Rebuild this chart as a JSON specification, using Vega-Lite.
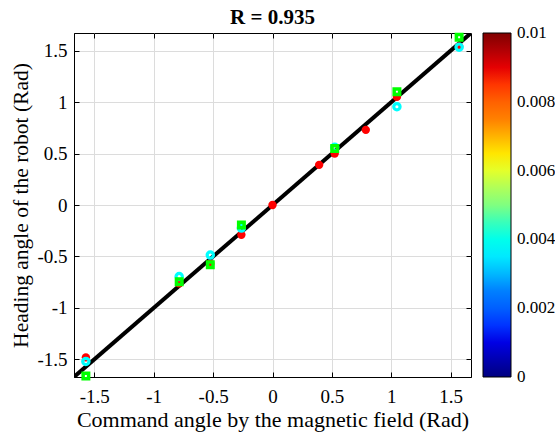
{
  "$schema": "https://vega.github.io/schema/vega-lite/v6.json",
  "width": 397,
  "height": 344,
  "autosize": {"type": "none"},
  "padding": {"left": 74, "top": 33, "right": 84, "bottom": 59},
  "background": "white",
  "title": {"text": "R = 0.935", "font": "Liberation Serif", "fontSize": 21, "fontWeight": "bold", "color": "black", "anchor": "middle", "offset": -1},
  "config": {
    "view": {"stroke": "black", "strokeWidth": 1},
    "axis": {
      "labelFont": "Liberation Serif", "labelFontSize": 19, "labelColor": "black",
      "titleFont": "Liberation Serif", "titleFontSize": 21.5, "titleFontWeight": "normal", "titleColor": "black",
      "domainColor": "black", "tickColor": "black", "tickSize": -5, "labelPadding": 12,
      "gridColor": "#dcdcdc", "gridWidth": 1
    },
    "legend": {
      "labelFont": "Liberation Serif", "labelFontSize": 17, "labelColor": "black"
    }
  },
  "datasets": {
    "pts": [
      {"series": "red", "x": 0, "y": 0},
      {"series": "red", "x": 0.3927, "y": 0.39},
      {"series": "red", "x": 0.5236, "y": 0.5},
      {"series": "red", "x": 0.7854, "y": 0.73},
      {"series": "red", "x": 1.0472, "y": 1.05},
      {"series": "red", "x": 1.5708, "y": 1.54},
      {"series": "red", "x": -0.2618, "y": -0.29},
      {"series": "red", "x": -0.5236, "y": -0.57},
      {"series": "red", "x": -0.7854, "y": -0.76},
      {"series": "red", "x": -1.5708, "y": -1.48},
      {"series": "cyan", "x": 1.5708, "y": 1.533},
      {"series": "cyan", "x": 1.0472, "y": 0.955},
      {"series": "cyan", "x": 0.5236, "y": 0.56},
      {"series": "cyan", "x": -0.2618, "y": -0.224},
      {"series": "cyan", "x": -0.5236, "y": -0.486},
      {"series": "cyan", "x": -0.7854, "y": -0.695},
      {"series": "cyan", "x": -1.5708, "y": -1.52},
      {"series": "green", "x": 1.5708, "y": 1.63},
      {"series": "green", "x": 1.0472, "y": 1.1},
      {"series": "green", "x": 0.5236, "y": 0.548},
      {"series": "green", "x": -0.2618, "y": -0.195},
      {"series": "green", "x": -0.5236, "y": -0.58},
      {"series": "green", "x": -0.7854, "y": -0.746},
      {"series": "green", "x": -1.5708, "y": -1.66}
    ],
    "fit": [
      {"x": -1.6708, "y": -1.6708},
      {"x": 1.6708, "y": 1.6708}
    ],
    "cbar": [
      {"c": 0},
      {"c": 0.01}
    ]
  },
  "layer": [
    {
      "data": {"name": "fit"},
      "mark": {"type": "line", "color": "black", "strokeWidth": 4, "clip": true},
      "encoding": {
        "x": {"field": "x", "type": "quantitative",
          "scale": {"domain": [-1.6708, 1.6708], "nice": false, "zero": false},
          "axis": {"orient": "bottom", "title": "Command angle by the magnetic field (Rad)", "values": [-1.5, -1, -0.5, 0, 0.5, 1, 1.5], "labelExpr": "datum.value + ''", "labelFont": "Liberation Serif", "labelPadding": 15, "grid": true, "titlePadding": 3, "titleFontSize": 22}},
        "y": {"field": "y", "type": "quantitative",
          "scale": {"domain": [-1.6708, 1.6708], "nice": false, "zero": false},
          "axis": {"orient": "left", "title": "Heading angle of the robot (Rad)", "values": [-1.5, -1, -0.5, 0, 0.5, 1, 1.5], "labelExpr": "datum.value + ''", "labelFont": "Liberation Serif", "labelPadding": 12, "grid": true, "titlePadding": 4}}
      }
    },
    {
      "data": {"name": "pts"},
      "transform": [{"filter": "datum.series == 'red'"}],
      "mark": {"type": "point", "shape": "circle", "filled": true, "size": 70, "color": "#FF0000", "opacity": 1},
      "encoding": {
        "x": {"field": "x", "type": "quantitative", "axis": {"orient": "top", "labels": false, "title": null, "grid": false, "domain": false, "values": [-1.5, -1, -0.5, 0, 0.5, 1, 1.5]}},
        "y": {"field": "y", "type": "quantitative", "axis": {"orient": "right", "labels": false, "title": null, "grid": false, "domain": false, "values": [-1.5, -1, -0.5, 0, 0.5, 1, 1.5]}}
      }
    },
    {
      "data": {"name": "pts"},
      "transform": [{"filter": "datum.series == 'cyan'"}],
      "mark": {"type": "point", "shape": "circle", "filled": false, "size": 40, "strokeWidth": 3.2, "color": "#00FFFF", "opacity": 1},
      "encoding": {
        "x": {"field": "x", "type": "quantitative", "axis": null},
        "y": {"field": "y", "type": "quantitative", "axis": null}
      }
    },
    {
      "data": {"name": "pts"},
      "transform": [{"filter": "datum.series == 'green'"}],
      "mark": {"type": "point", "shape": "square", "filled": false, "size": 30, "strokeWidth": 3.5, "color": "#00FF00", "opacity": 1},
      "encoding": {
        "x": {"field": "x", "type": "quantitative", "axis": null},
        "y": {"field": "y", "type": "quantitative", "axis": null}
      }
    },
    {
      "data": {"name": "cbar"},
      "mark": {"type": "point", "size": 0, "filled": true, "opacity": 1},
      "encoding": {
        "color": {"field": "c", "type": "quantitative",
          "scale": {"domain": [0, 0.00125, 0.0025, 0.00375, 0.005, 0.00625, 0.0075, 0.00875, 0.01],
                    "range": ["#000080", "#0000FF", "#0080FF", "#00FFFF", "#80FF80", "#FFFF00", "#FF8000", "#FF0000", "#800000"]},
          "legend": {"type": "gradient", "title": null, "orient": "right", "offset": 11, "padding": 0,
            "gradientLength": 344, "gradientThickness": 28, "gradientStrokeColor": "black", "gradientStrokeWidth": 1, "gradientOpacity": 1,
            "labelFont": "Liberation Serif", "labelFontSize": 17, "labelColor": "black",
            "values": [0, 0.002, 0.004, 0.006, 0.008, 0.01], "labelExpr": "datum.value + ''", "labelOffset": 6, "labelOverlap": false,
            "encode": {"labels": {"update": {"baseline": {"value": "middle"}}}, "gradient": {"update": {"opacity": {"value": 1}}}}}}
      }
    }
  ]
}
